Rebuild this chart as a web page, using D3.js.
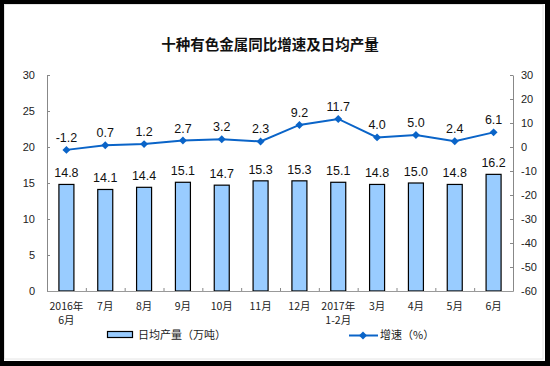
<!DOCTYPE html>
<html><head><meta charset="utf-8">
<script src="https://cdn.jsdelivr.net/npm/d3@7"></script>
<style>
html,body{margin:0;padding:0;background:#000;}
svg{display:block;}
</style></head>
<body>
<svg id="c" width="550" height="366"></svg>
<script>
const categories = ["2016年\n6月","7月","8月","9月","10月","11月","12月","2017年\n1-2月","3月","4月","5月","6月"];
const output = [14.8,14.1,14.4,15.1,14.7,15.3,15.3,15.1,14.8,15.0,14.8,16.2];
const growth = [-1.2,0.7,1.2,2.7,3.2,2.3,9.2,11.7,4.0,5.0,2.4,6.1];
const leftTicks = [0,5,10,15,20,25,30];
const rightTicks = [-60,-50,-40,-30,-20,-10,0,10,20,30];
const title = "十种有色金属同比增速及日均产量";
const legendBar = "日均产量（万吨）";
const legendLine = "增速（%）";

const svg = d3.select("#c");
const W = 550, H = 366;
// frame
svg.append("rect").attr("x",0).attr("y",0).attr("width",W).attr("height",H).attr("fill","#000");
svg.append("rect").attr("x",4).attr("y",4).attr("width",541).attr("height",357).attr("fill","#fff");
svg.append("rect").attr("x",4.5).attr("y",4.5).attr("width",538.5).attr("height",354.5).attr("fill","none").attr("stroke","#e4e4e4").attr("stroke-width",1);

const cjk = "'Noto Sans CJK SC', 'Noto Sans', sans-serif";
const latin = "'Liberation Sans', Arial, sans-serif";

const L = 47, R = 513, T = 75, B = 291;
const x = d3.scaleBand().domain(d3.range(categories.length)).range([L,R]).paddingInner(0).paddingOuter(0);
const yL = d3.scaleLinear().domain([0,30]).range([B,T]);
const yR = d3.scaleLinear().domain([-60,30]).range([B,T]);

svg.append("text").attr("x",270).attr("y",50).attr("text-anchor","middle")
  .attr("font-family",cjk).attr("font-size",14.5).attr("font-weight","bold").attr("fill","#111").text(title);

// bars
const bw = 16;
svg.append("g").selectAll("rect").data(output).join("rect")
  .attr("x",(d,i)=>x(i)+x.bandwidth()/2-bw/2+0.5).attr("y",d=>yL(d))
  .attr("width",bw-1).attr("height",d=>B-yL(d))
  .attr("fill","#99ccff").attr("stroke","#000").attr("stroke-width",1.2);

// axes
const fmt = d => String(d);
const axL = d3.axisLeft(yL).tickValues(leftTicks).tickFormat(fmt).tickSize(-3).tickPadding(12).tickSizeOuter(0);
const gL = svg.append("g").attr("transform",`translate(${L},0)`).call(axL);
const axR = d3.axisRight(yR).tickValues(rightTicks).tickFormat(fmt).tickSize(-3).tickPadding(8).tickSizeOuter(0);
const gR = svg.append("g").attr("transform",`translate(${R},0)`).call(axR);
const axB = d3.axisBottom(d3.scaleLinear().domain([0,categories.length]).range([L,R]))
  .tickValues(d3.range(1,categories.length)).tickSize(-3).tickFormat("").tickSizeOuter(0);
const gB = svg.append("g").attr("transform",`translate(0,${B})`).call(axB);
[gL,gR,gB].forEach(g=>{
  g.select(".domain").attr("stroke","#888");
  g.selectAll(".tick line").attr("stroke","#888");
  g.selectAll("text").attr("font-family",latin).attr("font-size",11).attr("fill","#222");
});
gB.select(".domain").attr("stroke","#999");

// category labels
const cl = svg.append("g");
categories.forEach((c,i)=>{
  const lines = c.split("\n");
  lines.forEach((s,j)=>{
    cl.append("text").attr("x",x(i)+x.bandwidth()/2).attr("y",310+j*14)
      .attr("text-anchor","middle").attr("font-family",cjk).attr("font-size",10.5).attr("fill","#222").text(s);
  });
});

// bar labels
svg.append("g").selectAll("text").data(output).join("text")
  .attr("x",(d,i)=>x(i)+x.bandwidth()/2).attr("y",d=>yL(d)-7)
  .attr("text-anchor","middle").attr("font-family",latin).attr("font-size",12.5).attr("fill","#111")
  .text(d=>d.toFixed(1));

// line
const lineCol = "#0a64c8";
const line = d3.line().x((d,i)=>x(i)+x.bandwidth()/2).y(d=>yR(d));
svg.append("path").datum(growth).attr("d",line).attr("fill","none").attr("stroke",lineCol).attr("stroke-width",2);
const diamond = d3.symbol().type(d3.symbolDiamond2).size(40);
svg.append("g").selectAll("path").data(growth).join("path")
  .attr("d",diamond).attr("transform",(d,i)=>`translate(${x(i)+x.bandwidth()/2},${yR(d)})`).attr("fill",lineCol);
svg.append("g").selectAll("text").data(growth).join("text")
  .attr("x",(d,i)=>x(i)+x.bandwidth()/2).attr("y",d=>yR(d)-8)
  .attr("text-anchor","middle").attr("font-family",latin).attr("font-size",12.5).attr("fill","#111")
  .text(d=>d.toFixed(1));

// legend
svg.append("rect").attr("x",107.5).attr("y",331.5).attr("width",25).attr("height",6)
  .attr("fill","#99ccff").attr("stroke","#000").attr("stroke-width",1.2);
svg.append("text").attr("x",138).attr("y",339).attr("font-family",cjk).attr("font-size",11).attr("fill","#222").text(legendBar);
svg.append("line").attr("x1",349).attr("x2",378).attr("y1",335.5).attr("y2",335.5).attr("stroke",lineCol).attr("stroke-width",2);
svg.append("path").attr("d",diamond).attr("transform","translate(363,335.5)").attr("fill",lineCol);
svg.append("text").attr("x",380).attr("y",339).attr("font-family",cjk).attr("font-size",11).attr("fill","#222").text(legendLine);
</script>
</body></html>
